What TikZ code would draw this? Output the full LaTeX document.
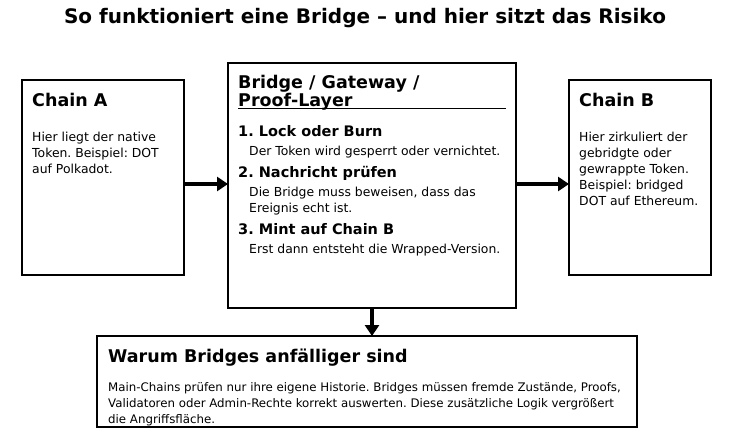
\documentclass[tikz,border=0pt]{standalone}
\usepackage{fontspec}
\setmainfont{DejaVu Sans}
\usetikzlibrary{arrows.meta}
\frenchspacing
\tikzset{
  box/.style={draw,line width=1.6pt},
  head/.style={anchor=base west,font=\bfseries\fontsize{17.5}{20}\selectfont,inner sep=0pt},
  stephead/.style={anchor=base west,font=\bfseries\fontsize{14.5}{16}\selectfont,inner sep=0pt},
  txt/.style={anchor=base west,font=\fontsize{12.4}{16}\selectfont,inner sep=0pt,align=left},
  flow/.style={line width=4.5pt,-{Triangle[length=11pt,width=14pt]}}
}
\begin{document}
\begin{tikzpicture}[x=1pt,y=-1pt]
\useasboundingbox (0,0) rectangle (730,436);
    %Titel
    \node[font=\bfseries\fontsize{20}{22}\selectfont] (title) at (365,18) {So funktioniert eine Bridge – und hier sitzt das Risiko};

    %Boxen
    \draw[box] (22,80) rectangle (184,275);
    \draw[box] (228,63) rectangle (516,308);
    \draw[box] (569,80) rectangle (711,275);
    \draw[box] (97,336) rectangle (637,427);
    \coordinate (aR) at (184,184);
    \coordinate (bL) at (228,184);
    \coordinate (bR) at (516,184);
    \coordinate (cL) at (569,184);
    \coordinate (bB) at (372,308);
    \coordinate (dT) at (372,336);

    %Chain A
    \node[head] (chainA) at (32,106) {Chain A};
    \node[txt] (textA) at (32,141) {Hier liegt der native};
    \node[txt] (textA2) at (32,157) {Token. Beispiel: DOT};
    \node[txt] (textA3) at (32,173) {auf Polkadot.};

    %Bridge
    \node[head] (bridge) at (238,88) {Bridge / Gateway /};
    \node[head] (proof) at (238,106) {Proof-Layer};
    \draw[line width=0.8pt] (238,108) -- (506,108);
    \node[stephead] (s1) at (238,136) {1. Lock oder Burn};
    \node[txt] (t1) at (249,155) {Der Token wird gesperrt oder vernichtet.};
    \node[stephead] (s2) at (238,177) {2. Nachricht prüfen};
    \node[txt] (t2) at (249,196) {Die Bridge muss beweisen, dass das};
    \node[txt] (t2b) at (249,212) {Ereignis echt ist.};
    \node[stephead] (s3) at (238,234) {3. Mint auf Chain B};
    \node[txt] (t3) at (249,253) {Erst dann entsteht die Wrapped-Version.};

    %Chain B
    \node[head] (chainB) at (579,106) {Chain B};
    \node[txt] (textB) at (579,141) {Hier zirkuliert der};
    \node[txt] (textB2) at (579,157) {gebridgte oder};
    \node[txt] (textB3) at (579,173) {gewrappte Token.};
    \node[txt] (textB4) at (579,189) {Beispiel: bridged};
    \node[txt] (textB5) at (579,205) {DOT auf Ethereum.};

    %Risiko
    \node[head] (risk) at (108,362) {Warum Bridges anfälliger sind};
    \node[txt,font=\fontsize{11.8}{14}\selectfont] (textR) at (108,391) {Main-Chains prüfen nur ihre eigene Historie. Bridges müssen fremde Zustände, Proofs,};
    \node[txt,font=\fontsize{11.8}{14}\selectfont] (textR2) at (108,407) {Validatoren oder Admin-Rechte korrekt auswerten. Diese zusätzliche Logik vergrößert};
    \node[txt,font=\fontsize{11.8}{14}\selectfont] (textR3) at (108,423) {die Angriffsfläche.};

    %Pfeile
    \draw[flow] (aR) -- (bL);
    \draw[flow] (bR) -- (cL);
    \draw[flow] (bB) -- (dT);
\end{tikzpicture}
\end{document}
